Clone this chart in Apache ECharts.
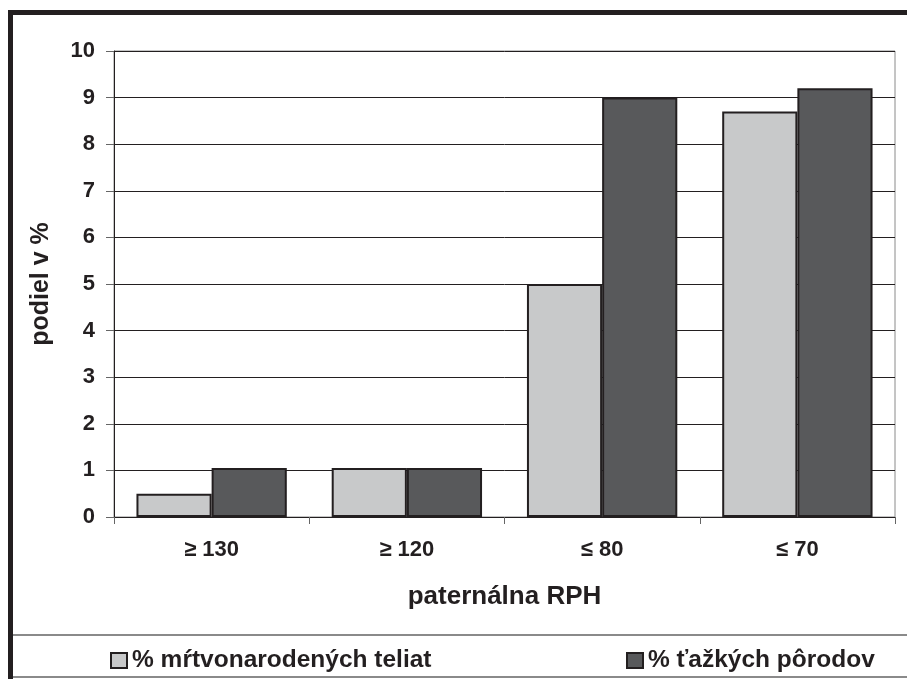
<!DOCTYPE html>
<html>
<head>
<meta charset="utf-8">
<script src="https://cdn.jsdelivr.net/npm/echarts@6/dist/echarts.min.js"></script>
<style>
html,body{margin:0;padding:0;background:#fff;}
#chart{width:907px;height:679px;}
</style>
</head>
<body>
<div id="chart"></div>
<script>
const categories = ['≥ 130', '≥ 120', '≤ 80', '≤ 70'];
const stillborn = [0.5, 1.05, 5.0, 8.7];
const difficult = [1.05, 1.05, 9.0, 9.2];
const seriesNames = ['% mŕtvonarodených teliat', '% ťažkých pôrodov'];
const yTicks = { min: 0, max: 10, interval: 1 };

const FONT = '"Liberation Sans", Arial, sans-serif';
const chart = echarts.init(document.getElementById('chart'), null, { renderer: 'canvas' });

chart.setOption({
  backgroundColor: '#ffffff',
  animation: false,
  textStyle: { fontFamily: FONT },
  grid: {
    left: 114, right: 12, top: 51, bottom: 162,
    show: true, borderColor: '#8a8a8a', borderWidth: 1, backgroundColor: 'transparent'
  },
  legend: [
    {
      data: [seriesNames[0]],
      left: 105, top: 643,
      icon: 'rect', itemWidth: 16, itemHeight: 15,
      textStyle: { fontFamily: FONT, fontWeight: 'bold', fontSize: 24.5, color: '#231f20' }
    },
    {
      data: [seriesNames[1]],
      left: 621, top: 643,
      icon: 'rect', itemWidth: 16, itemHeight: 15,
      textStyle: { fontFamily: FONT, fontWeight: 'bold', fontSize: 24.5, color: '#231f20' }
    }
  ],
  xAxis: {
    type: 'category',
    data: categories,
    name: 'paternálna RPH',
    nameLocation: 'middle',
    nameGap: 67,
    nameTextStyle: { fontFamily: FONT, fontWeight: 'bold', fontSize: 26, color: '#231f20' },
    axisLine: { lineStyle: { color: '#231f20', width: 1 } },
    axisTick: { show: true, length: 7, lineStyle: { color: '#666' } },
    axisLabel: { margin: 22, fontFamily: FONT, fontWeight: 'bold', fontSize: 22, color: '#231f20' }
  },
  yAxis: {
    type: 'value',
    min: yTicks.min, max: yTicks.max, interval: yTicks.interval,
    name: 'podiel v %',
    nameLocation: 'middle',
    nameGap: 60,
    nameTextStyle: { fontFamily: FONT, fontWeight: 'bold', fontSize: 25, color: '#231f20' },
    axisLine: { show: true, lineStyle: { color: '#231f20', width: 1 } },
    axisTick: { show: true, length: 8, lineStyle: { color: '#666' } },
    axisLabel: { margin: 19, fontFamily: FONT, fontWeight: 'bold', fontSize: 22, color: '#231f20' },
    splitLine: { show: true, lineStyle: { color: '#231f20', width: 1 } }
  },
  series: [
    {
      name: seriesNames[0], type: 'bar', data: stillborn,
      barGap: '0%', barCategoryGap: '23%',
      itemStyle: { color: '#c8c9ca', borderColor: '#231f20', borderWidth: 2 }
    },
    {
      name: seriesNames[1], type: 'bar', data: difficult,
      barGap: '0%', barCategoryGap: '23%',
      itemStyle: { color: '#58595b', borderColor: '#231f20', borderWidth: 2 }
    }
  ],
  graphic: [
    { type: 'rect', shape: { x: 8, y: 10, width: 5, height: 669 }, style: { fill: '#231f20' }, silent: true },
    { type: 'rect', shape: { x: 8, y: 10, width: 899, height: 5 }, style: { fill: '#231f20' }, silent: true },
    { type: 'line', shape: { x1: 13, y1: 635, x2: 907, y2: 635 }, style: { stroke: '#8a8a8a', lineWidth: 2 }, silent: true },
    { type: 'line', shape: { x1: 13, y1: 677, x2: 907, y2: 677 }, style: { stroke: '#8a8a8a', lineWidth: 2 }, silent: true }
  ]
});
</script>
</body>
</html>
